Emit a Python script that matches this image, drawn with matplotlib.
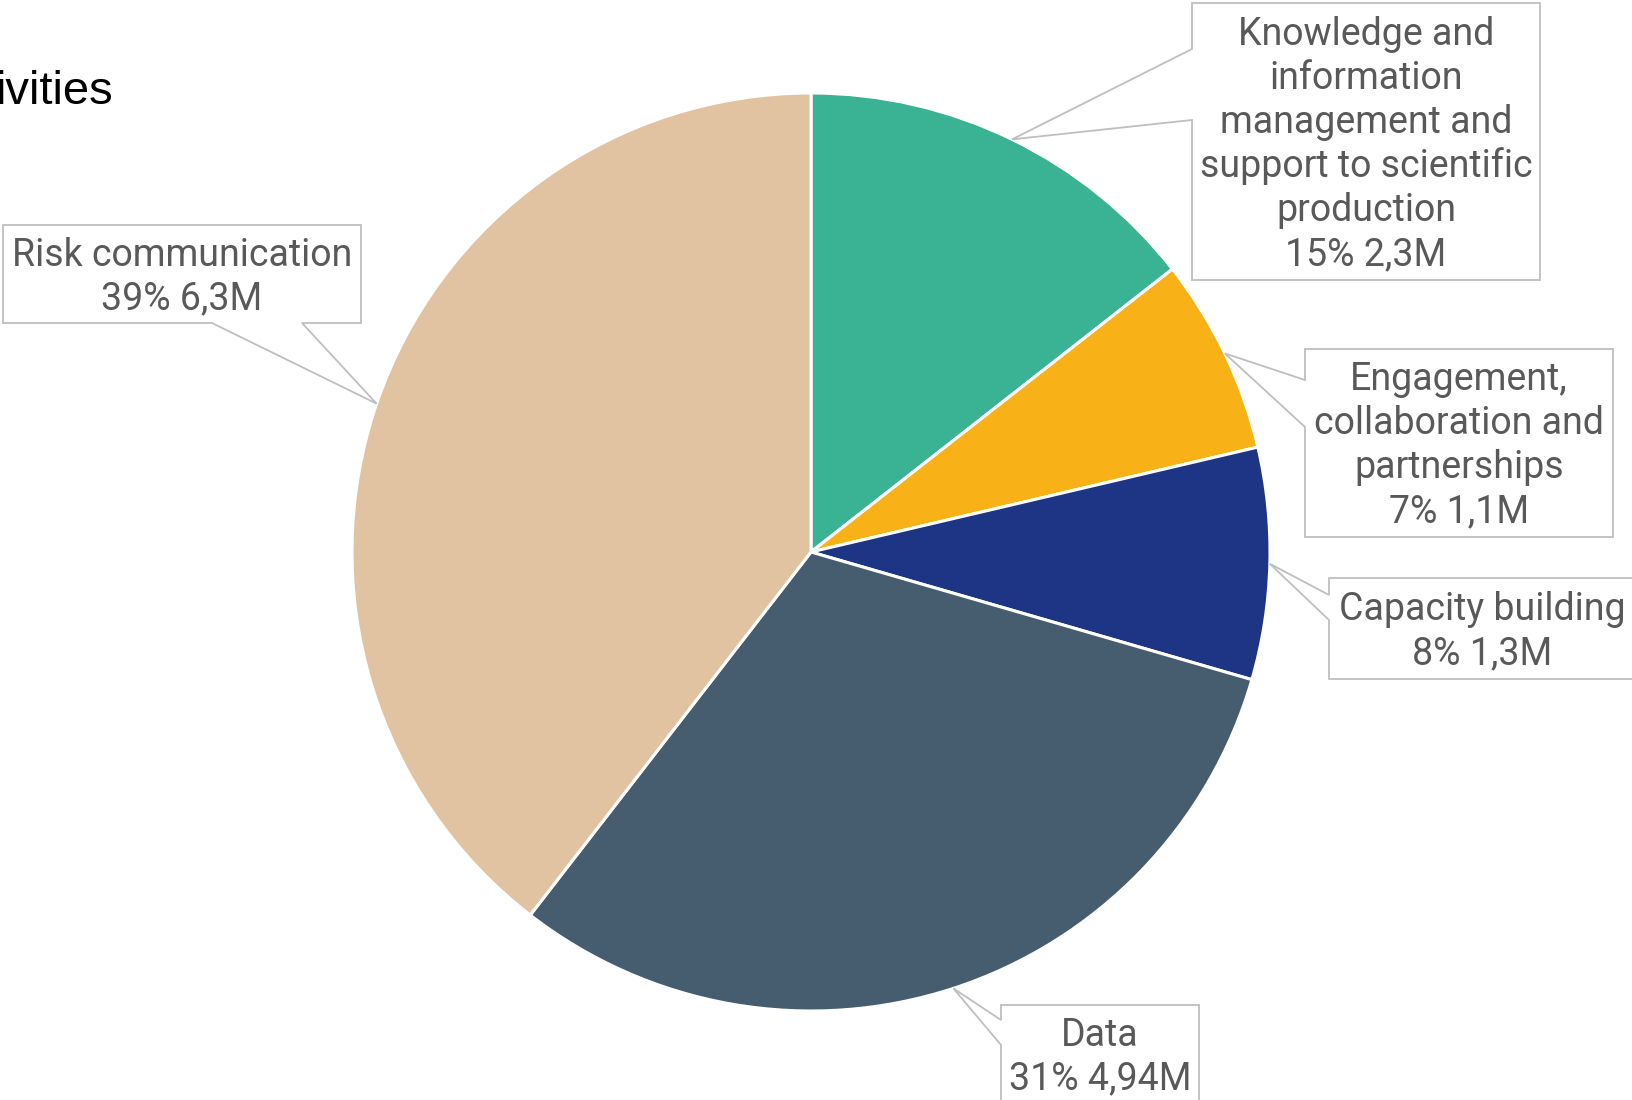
import matplotlib.pyplot as plt
import numpy as np
from matplotlib.patches import Polygon

# data
categories = ['Knowledge and\ninformation\nmanagement and\nsupport to scientific\nproduction',
              'Engagement,\ncollaboration and\npartnerships',
              'Capacity building',
              'Data',
              'Risk communication']
values = [2.3, 1.1, 1.3, 4.94, 6.3]
value_text = ['2,3M', '1,1M', '1,3M', '4,94M', '6,3M']
percent_text = ['15%', '7%', '8%', '31%', '39%']
colors = ['#3AB294', '#F8B116', '#1E3585', '#465D70', '#E2C3A1']

# callout boxes (x0, y0, x1, y1) in pixels, edge the leader leaves from, and two base points
boxes = [(1192, 3, 1540, 280), (1305, 349, 1613, 537), (1329, 578, 1635, 679),
         (1001, 1005, 1199, 1103), (3, 225, 361, 323)]
sides = ['left', 'left', 'left', 'left', 'bottom']
bases = [(49, 120), (380, 427), (595, 620), (1020, 1045), (212, 302)]

W, H = 1632, 1100
cx, cy, r = 811, 552, 459
text_color = '#595959'
line_color = '#BFBFBF'

fig = plt.figure(figsize=(W / 100, H / 100), dpi=100)
ax = fig.add_axes([0, 0, 1, 1])

# y axis is inverted below, so counterclockwise in data = clockwise on screen
wedges, _ = ax.pie(values, colors=colors, startangle=-90, counterclock=True,
                   center=(cx, cy), radius=r,
                   wedgeprops=dict(edgecolor='white', linewidth=2.2))
ax.set_xlim(0, W)
ax.set_ylim(H, 0)
ax.set_aspect('equal')
ax.axis('off')

spacing = 44
for i, w in enumerate(wedges):
    mid = np.deg2rad((w.theta1 + w.theta2) / 2)
    tip = (cx + r * np.cos(mid), cy + r * np.sin(mid))
    x0, y0, x1, y1 = boxes[i]
    b = sorted(bases[i])
    if sides[i] == 'left':
        pts = [(x0, y0), (x1, y0), (x1, y1), (x0, y1), (x0, b[1]), tip, (x0, b[0])]
    else:  # bottom
        pts = [(x0, y0), (x1, y0), (x1, y1), (b[1], y1), tip, (b[0], y1), (x0, y1)]
    ax.add_patch(Polygon(pts, closed=True, facecolor='white', edgecolor=line_color,
                         linewidth=1.3, zorder=3, clip_on=False))

    lines = categories[i].split('\n') + [percent_text[i] + ' ' + value_text[i]]
    n = len(lines)
    xc = (x0 + x1) / 2
    yc = (y0 + y1) / 2
    for k, txt in enumerate(lines):
        yb = yc + (k - (n - 1) / 2) * spacing + 13.5
        ax.text(xc, yb, txt, ha='center', va='baseline', fontsize=27,
                family='Roboto', color=text_color, zorder=4)

# title is cut off at the left edge in the original
ax.text(114, 104, 'ivities', ha='right', va='baseline', fontsize=34,
        family='Liberation Sans', color='black')

fig.savefig('out.png', dpi=100)
